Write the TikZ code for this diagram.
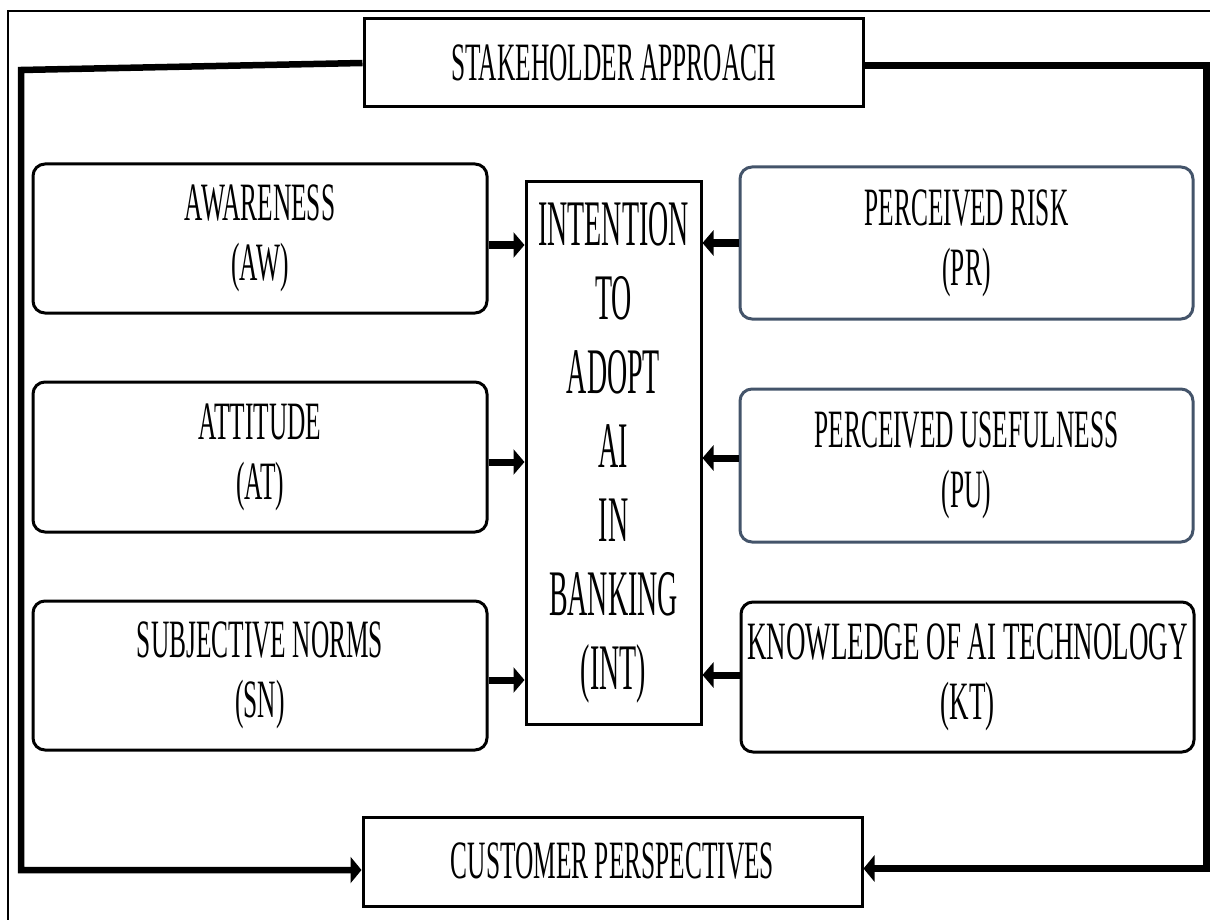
\documentclass[tikz,border=0pt]{standalone}
\usepackage{fontspec}
\setmainfont{Liberation Serif}
\newfontfamily\fside[FakeStretch=0.47]{Liberation Serif}
\newfontfamily\fkt[FakeStretch=0.5]{Liberation Serif}
\newfontfamily\fcent[FakeStretch=0.43]{Liberation Serif}
\usetikzlibrary{arrows.meta}
\definecolor{slate}{HTML}{44546A}
\begin{document}
\begin{tikzpicture}[x=1pt,y=-1pt,
  sidebox/.style={draw, line width=3pt, rounded corners=12pt, minimum width=454pt, minimum height=150pt, inner sep=0pt, align=center, font=\fside\fontsize{54}{60}\selectfont},
  rightbox/.style={sidebox, draw=slate},
  plainbox/.style={draw, line width=3pt, inner sep=0pt, align=center},
  arr/.style={line width=7pt, -{Triangle[length=11pt,width=25pt]}},
  loop/.style={line width=6.5pt, line join=miter, -{Triangle[length=11pt,width=26pt]}}]
\useasboundingbox (0,0) rectangle (1210,920);
% outer frame
\draw[line width=1.5pt] (8,925) -- (8,11) -- (1215,11);
% boxes
\node[plainbox, minimum width=499pt, minimum height=88pt, font=\fside\fontsize{54}{60}\selectfont] (top) at (613.5,63) {STAKEHOLDER APPROACH};
\node[plainbox, minimum width=499pt, minimum height=89pt, font=\fside\fontsize{54}{60}\selectfont] (bot) at (612.5,861.5) {CUSTOMER PERSPECTIVES};
\node[plainbox, minimum width=175pt, minimum height=542pt, font=\fcent\fontsize{65}{74}\selectfont] (int) at (613.5,453) {INTENTION\\TO\\ADOPT\\AI\\IN\\BANKING\\(INT)};
\node[sidebox, minimum height=149pt] (aw) at (260,238.5) {AWARENESS\\(AW)};
\node[sidebox] (at) at (260,457) {ATTITUDE\\(AT)};
\node[sidebox, minimum height=149pt] (sn) at (260,675.5) {SUBJECTIVE NORMS\\(SN)};
\node[rightbox, minimum width=453pt, minimum height=152pt] (pr) at (966.5,243) {PERCEIVED RISK\\(PR)};
\node[rightbox, minimum width=453pt, minimum height=153pt] (pu) at (966.5,465.5) {PERCEIVED USEFULNESS\\(PU)};
\node[sidebox, minimum width=453pt, font=\fkt\fontsize{54}{60}\selectfont] (kt) at (967.5,677) {KNOWLEDGE OF AI TECHNOLOGY\\(KT)};
% arrows into INT
\draw[arr] ([yshift=-6.5pt]aw.east) -- ([yshift=-6.5pt]aw.east -| int.west);
\draw[arr] ([yshift=-5pt]at.east) -- ([yshift=-5pt]at.east -| int.west);
\draw[arr] ([yshift=-4.5pt]sn.east) -- ([yshift=-4.5pt]sn.east -| int.west);
\draw[arr] (pr.west) -- (pr.west -| int.east);
\draw[arr] ([yshift=7.5pt]pu.west) -- ([yshift=7.5pt]pu.west -| int.east);
\draw[arr] ([yshift=2pt]kt.west) -- ([yshift=2pt]kt.west -| int.east);
% feedback loop
\coordinate (tl) at (21,70);
\coordinate (bl) at (21,870);
\coordinate (tr) at (1206.5,65.5);
\coordinate (br) at (1206.5,868.5);
\draw[loop] (top.west) -- (tl) -- (bl) -- (bl -| bot.west);
\draw[loop] ([yshift=-2.5pt]top.east) -- (tr) -- (br) -- (br -| bot.east);
\end{tikzpicture}
\end{document}
